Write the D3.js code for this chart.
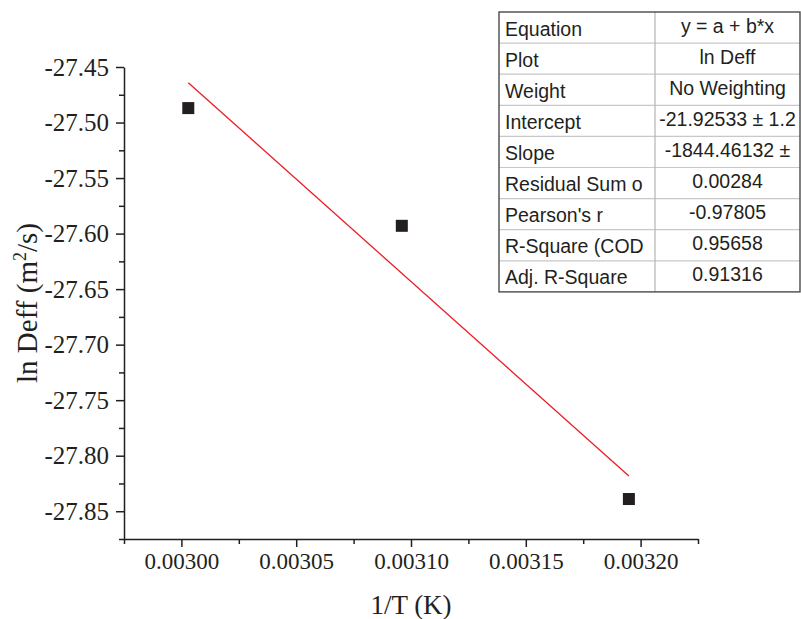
<!DOCTYPE html>
<html>
<head>
<meta charset="utf-8">
<script src="https://cdn.jsdelivr.net/npm/d3@7/dist/d3.min.js"></script>
<style>
  html, body { margin: 0; padding: 0; background: #fff; }
  svg { display: block; }
</style>
</head>
<body>
<svg id="chart" width="801" height="619"></svg>
<script>
// Measured data: inverse temperature vs. natural log of effective diffusivity
const invT = [0.0030030, 0.0030960, 0.0031949];
const lnDeff = [-27.487, -27.593, -27.839];

// Linear fit parameters (y = a + b*x)
const fitIntercept = -21.92533;
const fitSlope = -1844.46132;

// Axis ticks
const xMajorTicks = [0.00300, 0.00305, 0.00310, 0.00315, 0.00320];
const xMinorTicks = [0.002975, 0.003025, 0.003075, 0.003125, 0.003175, 0.003225];
const yMajorTicks = [-27.45, -27.50, -27.55, -27.60, -27.65, -27.70, -27.75, -27.80, -27.85];
const yMinorTicks = [-27.475, -27.525, -27.575, -27.625, -27.675, -27.725, -27.775, -27.825, -27.875];

// Fit statistics table
const tableLabels = ["Equation", "Plot", "Weight", "Intercept", "Slope",
  "Residual Sum o", "Pearson's r", "R-Square (COD", "Adj. R-Square"];
const tableValues = ["y = a + b*x", "ln Deff", "No Weighting", "-21.92533 \u00b1 1.2",
  "-1844.46132 \u00b1", "0.00284", "-0.97805", "0.95658", "0.91316"];

const svg = d3.select("#chart");

const x = d3.scaleLinear().domain([0.002975, 0.003225]).range([124, 698]);
const y = d3.scaleLinear().domain([-27.875, -27.45]).range([539, 67]);

const serif = "'Liberation Serif', 'Times New Roman', serif";
const sans = "'Liberation Sans', Arial, sans-serif";
const ink = "#231f20";
const noLabel = () => "";

// Bottom axis: major ticks with labels, unlabeled minor ticks
const xAxisG = svg.append("g").attr("transform", `translate(0,${y.range()[0]})`);
const xMajorG = xAxisG.append("g").call(d3.axisBottom(x).tickValues(xMajorTicks)
  .tickFormat(d3.format(".5f")).tickSizeInner(8).tickSizeOuter(0).tickPadding(6));
xMajorG.attr("font-family", null).attr("font-size", null);
xMajorG.selectAll(".tick text").style("font-family", serif).style("font-size", "23px").attr("fill", ink);
xAxisG.append("g").call(d3.axisBottom(x).tickValues(xMinorTicks).tickFormat(noLabel)
  .tickSizeInner(5).tickSizeOuter(0)).select(".domain").remove();
xAxisG.selectAll("line, path").attr("stroke", ink).attr("stroke-width", 1.5);

// Left axis: major ticks with labels, unlabeled minor ticks
const yAxisG = svg.append("g").attr("transform", `translate(${x.range()[0]},0)`);
const yMajorG = yAxisG.append("g").call(d3.axisLeft(y).tickValues(yMajorTicks)
  .tickFormat(d => d3.format(".2f")(d).replace("\u2212", "-"))
  .tickSizeInner(8).tickSizeOuter(0).tickPadding(7));
yMajorG.attr("font-family", null).attr("font-size", null);
yMajorG.selectAll(".tick text").style("font-family", serif).style("font-size", "25px").attr("fill", ink);
yAxisG.append("g").call(d3.axisLeft(y).tickValues(yMinorTicks).tickFormat(noLabel)
  .tickSizeInner(5).tickSizeOuter(0)).select(".domain").remove();
yAxisG.selectAll("line, path").attr("stroke", ink).attr("stroke-width", 1.5);

// Axis titles
svg.append("text")
  .attr("x", 411).attr("y", 614)
  .attr("text-anchor", "middle")
  .style("font-family", serif).style("font-size", "27px").attr("fill", ink)
  .text("1/T (K)");

const yTitle = svg.append("text")
  .attr("transform", "translate(37,303) rotate(-90)")
  .attr("text-anchor", "middle")
  .style("font-family", serif).style("font-size", "29px").attr("fill", ink);
yTitle.append("tspan").text("ln Deff (m");
yTitle.append("tspan").style("font-size", "18px").attr("dy", -11).text("2");
yTitle.append("tspan").attr("dy", 11).text("/s)");

// Fitted line across the measured range
const xFit = d3.extent(invT);
svg.append("line")
  .attr("x1", x(xFit[0])).attr("y1", y(fitIntercept + fitSlope * xFit[0]))
  .attr("x2", x(xFit[1])).attr("y2", y(fitIntercept + fitSlope * xFit[1]))
  .attr("stroke", "#ec1c24").attr("stroke-width", 1.3);

// Data markers
const sq = 12;
svg.append("g").selectAll("rect")
  .data(invT.map((v, i) => [v, lnDeff[i]]))
  .join("rect")
  .attr("x", d => x(d[0]) - sq / 2)
  .attr("y", d => y(d[1]) - sq / 2)
  .attr("width", sq).attr("height", sq)
  .attr("fill", ink);

// Fit statistics table
const tbl = { left: 499, top: 12, right: 800, divider: 655, rowH: 31.1 };
const tableG = svg.append("g");
const rows = d3.range(tableLabels.length);
tableG.selectAll("line.row")
  .data(rows.slice(1))
  .join("line").attr("class", "row")
  .attr("x1", tbl.left).attr("x2", tbl.right)
  .attr("y1", i => tbl.top + i * tbl.rowH).attr("y2", i => tbl.top + i * tbl.rowH)
  .attr("stroke", "#c8c8c8").attr("stroke-width", 1.2);
tableG.append("line")
  .attr("x1", tbl.divider).attr("x2", tbl.divider)
  .attr("y1", tbl.top).attr("y2", tbl.top + tableLabels.length * tbl.rowH)
  .attr("stroke", "#b4b4b4").attr("stroke-width", 1.2);
tableG.append("rect")
  .attr("x", tbl.left).attr("y", tbl.top)
  .attr("width", tbl.right - tbl.left).attr("height", tableLabels.length * tbl.rowH)
  .attr("fill", "none").attr("stroke", "#4a4a4a").attr("stroke-width", 1.4);

const clip = svg.append("defs").append("clipPath").attr("id", "valClip");
clip.append("rect").attr("x", tbl.divider + 1).attr("y", tbl.top)
  .attr("width", tbl.right - tbl.divider - 2).attr("height", tableLabels.length * tbl.rowH);

tableG.selectAll("text.lab")
  .data(tableLabels)
  .join("text").attr("class", "lab")
  .attr("x", tbl.left + 6)
  .attr("y", (d, i) => tbl.top + i * tbl.rowH + 23.5)
  .style("font-family", sans).style("font-size", "19.5px").attr("fill", ink)
  .text(d => d);

tableG.append("g").attr("clip-path", "url(#valClip)")
  .selectAll("text.val")
  .data(tableValues)
  .join("text").attr("class", "val")
  .attr("x", (tbl.divider + tbl.right) / 2)
  .attr("y", (d, i) => tbl.top + i * tbl.rowH + 20.5)
  .attr("text-anchor", "middle")
  .style("font-family", sans).style("font-size", "19.5px").attr("fill", ink)
  .text(d => d);
</script>
</body>
</html>
